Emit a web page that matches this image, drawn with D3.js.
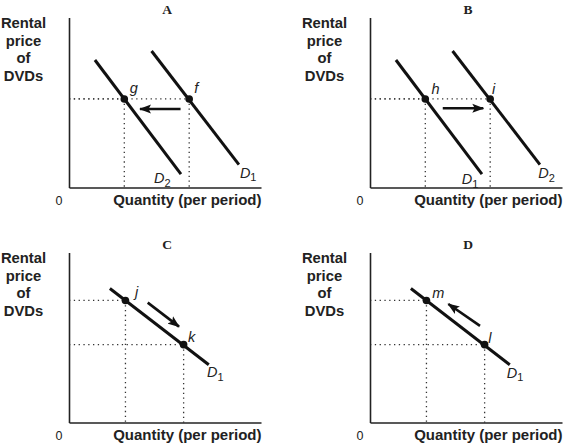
<!DOCTYPE html>
<html>
<head>
<meta charset="utf-8">
<script src="https://cdn.jsdelivr.net/npm/d3@7"></script>
<style>
  html, body { margin: 0; padding: 0; background: #fff; }
  svg { display: block; }
</style>
</head>
<body>
<svg id="chart" width="563" height="444"></svg>
<script>
// ---------- data (in abstract 0-100 units per panel) ----------
const panelTitles = ["A", "B", "C", "D"];
const yLabelLines = ["Rental", "price", "of", "DVDs"];
const xLabel = "Quantity (per period)";
const originLabel = "0";

// shifts of the curve (panels A and B)
const leftCurve = [[13.5, 75.0], [58.3, 7.9]];
const rightCurve = [[43.0, 80.3], [88.5, 13.5]];
const shiftPointsX = [28.8, 62.6];
const shiftPointY = 52.1;

// movements along the curve (panels C and D)
const alongCurve = [[21.3, 78.8], [72.8, 34.0]];
const upperPoint = [29.4, 71.8];
const lowerPoint = [59.7, 45.8];

// per panel: curves, points, point labels, curve labels, arrow
const panelCurves = [
  [leftCurve, rightCurve],
  [leftCurve, rightCurve],
  [alongCurve],
  [alongCurve]
];
const panelPoints = [
  [[shiftPointsX[0], shiftPointY], [shiftPointsX[1], shiftPointY]],
  [[shiftPointsX[0], shiftPointY], [shiftPointsX[1], shiftPointY]],
  [upperPoint, lowerPoint],
  [upperPoint, lowerPoint]
];
const pointLabels = [
  [{t: "g", x: 31.6, y: 55.4}, {t: "f", x: 65.2, y: 55.6}],
  [{t: "h", x: 32.0, y: 55.0}, {t: "i", x: 63.6, y: 55.0}],
  [{t: "j", x: 34.4, y: 73.8}, {t: "k", x: 62.0, y: 47.6}],
  [{t: "m", x: 32.4, y: 73.2}, {t: "l", x: 61.6, y: 46.6}]
];
const curveLabels = [
  [{d: "2", x: 44.3, y: 2.5}, {d: "1", x: 89.0, y: 5.6}],
  [{d: "1", x: 47.8, y: 2.0}, {d: "2", x: 87.6, y: 5.3}],
  [{d: "1", x: 71.9, y: 26.6}],
  [{d: "1", x: 71.2, y: 26.2}]
];
const panelArrows = [
  [[58.1, 46.2], [37.0, 46.2]],
  [[37.9, 46.6], [59.0, 46.6]],
  [[41.0, 70.5], [57.3, 56.4]],
  [[57.3, 56.8], [40.8, 69.7]]
];

// ---------- layout ----------
const panelOrigins = [[69, 187.5], [370, 187.5], [69, 422.5], [370, 422.5]];
const plotW = 192, plotH = 170;

const svg = d3.select("#chart");
const defs = svg.append("defs");
defs.append("marker")
  .attr("id", "arrowhead")
  .attr("viewBox", "0 0 12 10")
  .attr("refX", 11).attr("refY", 5)
  .attr("markerWidth", 12).attr("markerHeight", 10)
  .attr("markerUnits", "userSpaceOnUse")
  .attr("orient", "auto")
  .append("path")
  .attr("d", "M0,0.5 L12,5 L0,9.5 L2.5,5 Z")
  .attr("fill", "#111");

const sansBold = "'Liberation Sans', Arial, Helvetica, sans-serif";

panelTitles.forEach((title, i) => {
  const [ox, oy] = panelOrigins[i];
  const x = d3.scaleLinear().domain([0, 100]).range([ox, ox + plotW]);
  const y = d3.scaleLinear().domain([0, 100]).range([oy, oy - plotH]);
  const g = svg.append("g");

  // dotted guide lines
  panelPoints[i].forEach(p => {
    g.append("line")
      .attr("x1", x(0)).attr("x2", x(p[0]))
      .attr("y1", y(p[1])).attr("y2", y(p[1]))
      .attr("stroke", "#333").attr("stroke-width", 1.3)
      .attr("stroke-dasharray", "1.3,3.5");
    g.append("line")
      .attr("x1", x(p[0])).attr("x2", x(p[0]))
      .attr("y1", y(p[1])).attr("y2", y(0))
      .attr("stroke", "#333").attr("stroke-width", 1.3)
      .attr("stroke-dasharray", "1.3,3.5");
  });

  // axes
  const xAxis = g.append("g").attr("transform", `translate(0,${oy})`)
    .call(d3.axisBottom(x).ticks(0).tickSize(0).tickSizeOuter(0));
  const yAxis = g.append("g").attr("transform", `translate(${ox},0)`)
    .call(d3.axisLeft(y).ticks(0).tickSize(0).tickSizeOuter(0));
  [xAxis, yAxis].forEach(a => {
    a.select(".domain").attr("stroke", "#222").attr("stroke-width", 1.6);
    a.selectAll("text").remove();
  });

  // curves
  const line = d3.line().x(d => x(d[0])).y(d => y(d[1]));
  panelCurves[i].forEach(c => {
    g.append("path").attr("d", line(c))
      .attr("fill", "none").attr("stroke", "#111").attr("stroke-width", 3);
  });

  // arrow
  const a = panelArrows[i];
  g.append("line")
    .attr("x1", x(a[0][0])).attr("y1", y(a[0][1]))
    .attr("x2", x(a[1][0])).attr("y2", y(a[1][1]))
    .attr("stroke", "#111").attr("stroke-width", 2.6)
    .attr("marker-end", "url(#arrowhead)");

  // points
  panelPoints[i].forEach(p => {
    g.append("circle").attr("cx", x(p[0])).attr("cy", y(p[1]))
      .attr("r", 3.8).attr("fill", "#111");
  });

  // point labels
  pointLabels[i].forEach(l => {
    g.append("text").attr("x", x(l.x)).attr("y", y(l.y))
      .attr("font-family", sansBold).attr("font-style", "italic")
      .attr("font-size", 14.5).attr("fill", "#222").text(l.t);
  });

  // curve labels D with subscript
  curveLabels[i].forEach(l => {
    const t = g.append("text").attr("x", x(l.x)).attr("y", y(l.y))
      .attr("font-family", sansBold).attr("fill", "#222");
    t.append("tspan").attr("font-style", "italic").attr("font-size", 14.5).text("D");
    t.append("tspan").attr("font-size", 11).attr("dy", 3.5).text(l.d);
  });

  // title
  g.append("text").attr("x", ox + 98).attr("y", oy - 173.5)
    .attr("text-anchor", "middle")
    .attr("font-family", "'Liberation Serif', 'Times New Roman', serif")
    .attr("font-weight", "bold").attr("font-size", 13.5).attr("fill", "#222")
    .text(title);

  // y label
  const yl = g.append("text").attr("text-anchor", "middle")
    .attr("font-family", sansBold).attr("font-weight", "bold")
    .attr("font-size", 14.8).attr("fill", "#222");
  yLabelLines.forEach((s, k) => {
    yl.append("tspan").attr("x", ox - 45.5).attr("y", oy - 159.5 + k * 17.7).text(s);
  });

  // x label
  g.append("text").attr("x", ox + plotW + 0.5).attr("y", oy + 17)
    .attr("text-anchor", "end")
    .attr("font-family", sansBold).attr("font-weight", "bold")
    .attr("font-size", 15).attr("fill", "#222").text(xLabel);

  // origin
  g.append("text").attr("x", ox - 10).attr("y", oy + 17)
    .attr("text-anchor", "middle")
    .attr("font-family", sansBold)
    .attr("font-size", 12.5).attr("fill", "#222").text(originLabel);
});
</script>
</body>
</html>
